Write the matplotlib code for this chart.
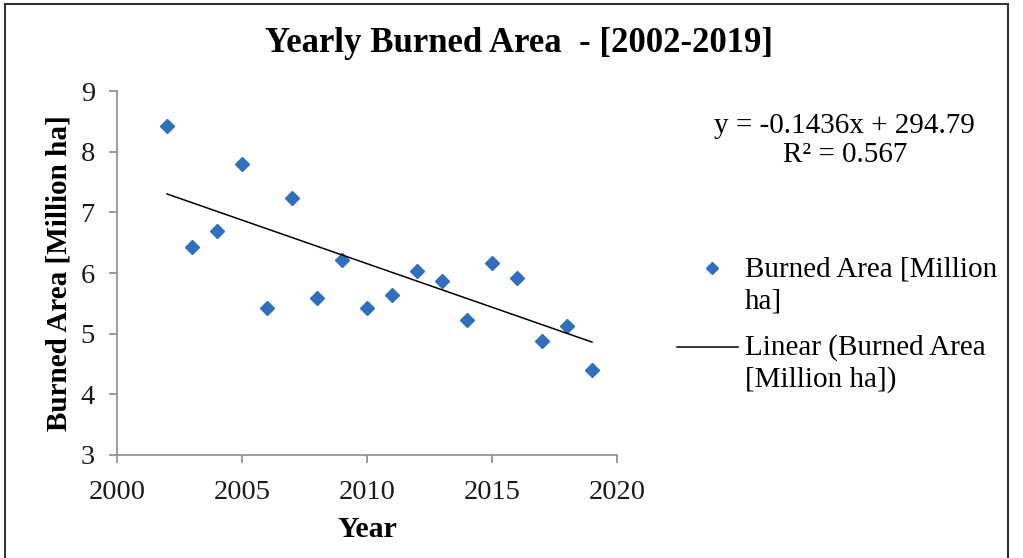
import matplotlib.pyplot as plt
from matplotlib.patches import Rectangle
from matplotlib.lines import Line2D

years = [2002, 2003, 2004, 2005, 2006, 2007, 2008, 2009, 2010,
         2011, 2012, 2013, 2014, 2015, 2016, 2017, 2018, 2019]
burned = [8.42, 6.43, 6.70, 7.80, 5.43, 7.24, 5.59, 6.22, 5.42,
          5.64, 6.03, 5.87, 5.22, 6.17, 5.91, 4.88, 5.13, 4.40]

# trend line from the equation shown on the chart
slope = -0.1436
intercept = 294.79
r2 = 0.567

blue = '#2f6fbd'
plt.rcParams['font.family'] = ['Liberation Serif', 'DejaVu Serif']

fig = plt.figure(figsize=(10.23, 5.58), dpi=100)
ax = fig.add_axes([0.1144, 0.1846, 0.4887, 0.6523])

ax.plot(years, burned, 'D', color=blue, markersize=7)
tx = [years[0], years[-1]]
ty = [slope * x + intercept for x in tx]
ax.plot(tx, ty, '-', color='black', lw=1.1)

ax.set_xlim(2000, 2020)
ax.set_ylim(3, 9)
ax.set_xticks([2000, 2005, 2010, 2015, 2020])
ax.set_yticks([3, 4, 5, 6, 7, 8, 9])
for s in ['top', 'right']:
    ax.spines[s].set_visible(False)
for s in ['left', 'bottom']:
    ax.spines[s].set_color('#8c8c8c')
    ax.spines[s].set_linewidth(1.2)
ax.tick_params(colors='#8c8c8c', labelcolor='#1a1a1a', labelsize=20.5, length=6, width=1.2)
ax.tick_params(axis='y', pad=10)
ax.tick_params(axis='x', pad=12)

ax.set_xlabel('Year', fontsize=21.5, fontweight='bold', labelpad=8)
ax.set_ylabel('Burned Area [Million ha]', fontsize=21, fontweight='bold', labelpad=6)

fig.text(0.507, 0.922, 'Yearly Burned Area  - [2002-2019]', ha='center', va='center',
         fontsize=25, fontweight='bold')

# equation / R² box
fig.text(0.825, 0.7616, 'y = -0.1436x + %.2f' % intercept, ha='center', va='baseline', fontsize=21)
fig.text(0.826, 0.7097, 'R² = %.3f' % r2, ha='center', va='baseline', fontsize=21)

# legend drawn by hand so the handles sit on the first text line
fig.add_artist(Line2D([0.696], [0.5197], marker='D', color=blue, markersize=6,
                      transform=fig.transFigure))
fig.add_artist(Line2D([0.662, 0.7214], [0.3781, 0.3781], color='black', lw=1.1,
                      transform=fig.transFigure))
leg_lines = [('Burned Area [Million', 0.5036), ('ha]', 0.4480),
             ('Linear (Burned Area', 0.3638), ('[Million ha])', 0.3065)]
for txt, yb in leg_lines:
    fig.text(0.7283, yb, txt, ha='left', va='baseline', fontsize=21)

fig.patches.append(Rectangle((0.005, -0.05), 0.98, 1.043, transform=fig.transFigure,
                             fill=False, edgecolor='#333333', lw=1.5))

fig.savefig('out.png', dpi=100)
